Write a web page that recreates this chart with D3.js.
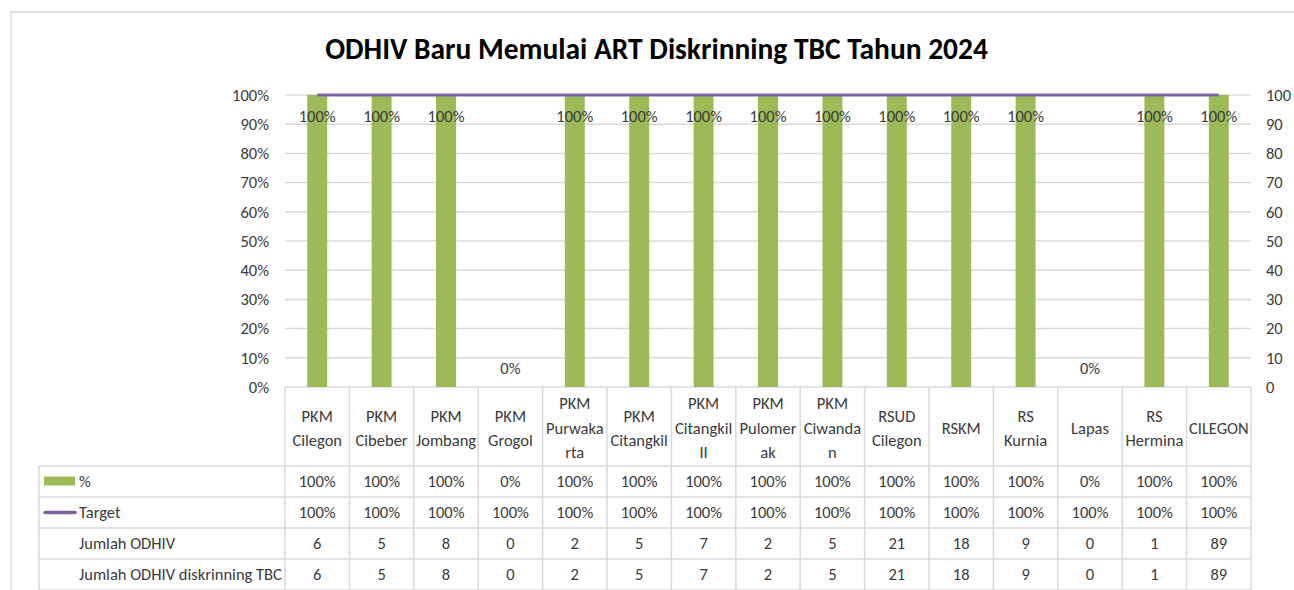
<!DOCTYPE html>
<html>
<head>
<meta charset="utf-8">
<script src="https://cdn.jsdelivr.net/npm/d3@7"></script>
<style>
  html, body { margin: 0; padding: 0; background: #fff; }
  svg { display: block; }
  text { font-family: Carlito, Lato, "Open Sans", sans-serif; }
</style>
</head>
<body>
<svg id="chart" width="1294" height="590"></svg>
<script>
// ---- data ----
const title = "ODHIV Baru Memulai ART Diskrinning TBC Tahun 2024";
const categories = [
  "PKM Cilegon", "PKM Cibeber", "PKM Jombang", "PKM Grogol", "PKM Purwakarta",
  "PKM Citangkil", "PKM Citangkil II", "PKM Pulomerak", "PKM Ciwandan",
  "RSUD Cilegon", "RSKM", "RS Kurnia", "Lapas", "RS Hermina", "CILEGON"
];
const categoryLines = [
  ["PKM", "Cilegon"], ["PKM", "Cibeber"], ["PKM", "Jombang"], ["PKM", "Grogol"],
  ["PKM", "Purwaka", "rta"], ["PKM", "Citangkil"], ["PKM", "Citangkil", "II"],
  ["PKM", "Pulomer", "ak"], ["PKM", "Ciwanda", "n"], ["RSUD", "Cilegon"], ["RSKM"],
  ["RS", "Kurnia"], ["Lapas"], ["RS", "Hermina"], ["CILEGON"]
];
const percentValues = [1, 1, 1, 0, 1, 1, 1, 1, 1, 1, 1, 1, 0, 1, 1];
const targetValues  = [1, 1, 1, 1, 1, 1, 1, 1, 1, 1, 1, 1, 1, 1, 1];
const jumlahODHIV   = [6, 5, 8, 0, 2, 5, 7, 2, 5, 21, 18, 9, 0, 1, 89];
const jumlahDiskrin = [6, 5, 8, 0, 2, 5, 7, 2, 5, 21, 18, 9, 0, 1, 89];
const leftTicks  = [0, 0.1, 0.2, 0.3, 0.4, 0.5, 0.6, 0.7, 0.8, 0.9, 1];
const rightTicks = [0, 10, 20, 30, 40, 50, 60, 70, 80, 90, 100];
const seriesNames = ["%", "Target", "Jumlah ODHIV", "Jumlah ODHIV diskrinning TBC"];

// ---- layout ----
const W = 1294, H = 590;
const plot = { left: 285, right: 1251, top: 95, bottom: 387 };
const rowTop = 466, rowH = 31, tableLeft = 39;
const green = "#9bbb59", purple = "#8064a2", grid = "#d9d9d9", txt = "#3a3a3a";
const fs = 16.5;

const svg = d3.select("#chart");

// outer border
svg.append("rect").attr("x", 11).attr("y", 12).attr("width", W + 20).attr("height", H + 20)
  .attr("fill", "none").attr("stroke", grid).attr("stroke-width", 1.5);

// title
const t = svg.append("text").attr("x", 656.5).attr("y", 59).attr("text-anchor", "middle")
  .attr("font-weight", "bold").attr("font-size", 32).attr("fill", "#000").text(title);
const tw = t.node().getComputedTextLength();
t.attr("font-size", Math.min(34, 32 * 663 / tw));

// scales
const x = d3.scaleBand().domain(categories).range([plot.left, plot.right]).padding(0);
const y = d3.scaleLinear().domain([0, 1]).range([plot.bottom, plot.top]);
const y2 = d3.scaleLinear().domain([0, 100]).range([plot.bottom, plot.top]);

// gridlines
svg.append("g").selectAll("line").data(leftTicks).join("line")
  .attr("x1", plot.left).attr("x2", plot.right)
  .attr("y1", d => y(d)).attr("y2", d => y(d))
  .attr("stroke", grid).attr("stroke-width", 1.5);

// left axis
const la = svg.append("g").attr("transform", `translate(${plot.left - 16},0)`)
  .call(d3.axisLeft(y).tickValues(leftTicks).tickFormat(d3.format(".0%")).tickSize(0).tickPadding(0));
la.select(".domain").remove();
la.selectAll("text").attr("font-size", fs).attr("fill", txt).attr("font-family", null);

// right axis
const ra = svg.append("g").attr("transform", `translate(1266,0)`)
  .call(d3.axisRight(y2).tickValues(rightTicks).tickSize(0).tickPadding(0));
ra.select(".domain").remove();
ra.selectAll("text").attr("font-size", fs).attr("fill", txt).attr("font-family", null);

// bars
const bw = x.bandwidth() * 0.31;
svg.append("g").selectAll("rect").data(categories).join("rect")
  .attr("x", (d) => x(d) + (x.bandwidth() - bw) / 2)
  .attr("width", bw)
  .attr("y", (d, i) => y(percentValues[i]))
  .attr("height", (d, i) => y(0) - y(percentValues[i]))
  .attr("fill", green);

// target line
svg.append("path")
  .datum(categories)
  .attr("d", d3.line().x(d => x(d) + x.bandwidth() / 2).y((d, i) => y(targetValues[i])))
  .attr("fill", "none").attr("stroke", purple).attr("stroke-width", 3);

// data labels
svg.append("g").selectAll("text").data(categories).join("text")
  .attr("x", d => x(d) + x.bandwidth() / 2)
  .attr("y", (d, i) => {
    const yy = y(percentValues[i]);
    return (yy - 26 < plot.top) ? yy + 27 : yy - 13;
  })
  .attr("text-anchor", "middle").attr("font-size", fs).attr("fill", txt)
  .text((d, i) => d3.format(".0%")(percentValues[i]));

// ---- data table ----
const tg = svg.append("g");
const lineAttr = s => s.attr("stroke", grid).attr("stroke-width", 1.5);
categories.concat([null]).forEach((c, i) => {
  const xx = c ? x(c) : plot.right;
  lineAttr(tg.append("line").attr("x1", xx).attr("x2", xx).attr("y1", plot.bottom).attr("y2", rowTop + 4 * rowH));
});
lineAttr(tg.append("line").attr("x1", tableLeft).attr("x2", tableLeft).attr("y1", rowTop).attr("y2", rowTop + 4 * rowH));
for (let r = 0; r <= 4; r++) {
  const yy = rowTop + r * rowH;
  lineAttr(tg.append("line").attr("x1", tableLeft).attr("x2", plot.right).attr("y1", yy).attr("y2", yy));
}

// header category labels
const lh = 24.5, hc = 428;
categories.forEach((c, i) => {
  const lines = categoryLines[i];
  const text = tg.append("text").attr("text-anchor", "middle").attr("font-size", fs).attr("fill", txt);
  lines.forEach((ln, k) => {
    text.append("tspan").attr("x", x(c) + x.bandwidth() / 2)
      .attr("y", hc - (lines.length - 1) * lh / 2 + k * lh)
      .attr("dy", "0.35em").text(ln);
  });
});

// rows
const rows = [
  percentValues.map(d3.format(".0%")),
  targetValues.map(d3.format(".0%")),
  jumlahODHIV.map(String),
  jumlahDiskrin.map(String)
];
rows.forEach((vals, r) => {
  const cy = rowTop + r * rowH + rowH / 2;
  tg.append("text").attr("x", 79).attr("y", cy).attr("dy", "0.35em")
    .attr("font-size", fs).attr("fill", txt).text(seriesNames[r]);
  categories.forEach((c, i) => {
    tg.append("text").attr("x", x(c) + x.bandwidth() / 2).attr("y", cy).attr("dy", "0.35em")
      .attr("text-anchor", "middle").attr("font-size", fs).attr("fill", txt).text(vals[i]);
  });
});

// legend keys
tg.append("rect").attr("x", 44).attr("y", rowTop + rowH / 2 - 5).attr("width", 31).attr("height", 9).attr("fill", green);
tg.append("line").attr("x1", 45).attr("x2", 75)
  .attr("y1", rowTop + rowH * 1.5).attr("y2", rowTop + rowH * 1.5)
  .attr("stroke", purple).attr("stroke-width", 3.5).attr("stroke-linecap", "round");
</script>
</body>
</html>
